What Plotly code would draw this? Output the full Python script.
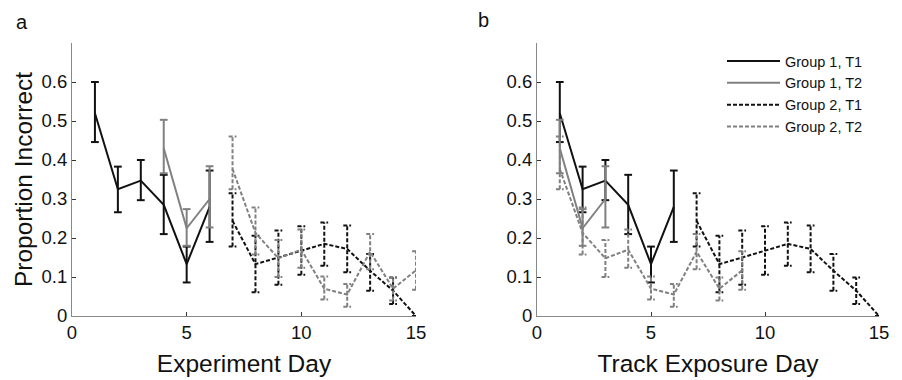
import plotly.graph_objects as go

# ---- data ----
exp_days_g1t1 = [1, 2, 3, 4, 5, 6]
exp_days_g1t2 = [4, 5, 6]
exp_days_g2t1 = [7, 8, 9, 10, 11, 12, 13, 14, 15]
exp_days_g2t2 = [7, 8, 9, 10, 11, 12, 13, 14, 15]

track_days_g1t1 = [1, 2, 3, 4, 5, 6]
track_days_g1t2 = [1, 2, 3]
track_days_g2t1 = [7, 8, 9, 10, 11, 12, 13, 14, 15]
track_days_g2t2 = [1, 2, 3, 4, 5, 6, 7, 8, 9]

g1t1_mean = [0.52, 0.325, 0.347, 0.285, 0.133, 0.28]
g1t1_hi = [0.60, 0.383, 0.40, 0.362, 0.178, 0.373]
g1t1_lo = [0.446, 0.266, 0.297, 0.21, 0.086, 0.19]

g1t2_mean = [0.43, 0.225, 0.30]
g1t2_hi = [0.503, 0.274, 0.384]
g1t2_lo = [0.366, 0.18, 0.227]

g2t1_mean = [0.244, 0.133, 0.150, 0.167, 0.185, 0.172, 0.116, 0.065, 0.0]
g2t1_hi = [0.315, 0.206, 0.219, 0.23, 0.24, 0.232, 0.159, 0.099, 0.0]
g2t1_lo = [0.178, 0.061, 0.080, 0.106, 0.129, 0.112, 0.065, 0.031, 0.0]

g2t2_mean = [0.377, 0.213, 0.148, 0.170, 0.070, 0.055, 0.165, 0.070, 0.117]
g2t2_hi = [0.460, 0.278, 0.195, 0.222, 0.101, 0.082, 0.21, 0.099, 0.166]
g2t2_lo = [0.325, 0.158, 0.10, 0.124, 0.042, 0.024, 0.12, 0.04, 0.067]

series_names = ["Group 1, T1", "Group 1, T2", "Group 2, T1", "Group 2, T2"]
x_ticks = [0, 5, 10, 15]
y_ticks = [0, 0.1, 0.2, 0.3, 0.4, 0.5, 0.6]
y_tick_labels = ["0", "0.1", "0.2", "0.3", "0.4", "0.5", "0.6"]

BLACK = "#111111"
GRAY = "#808080"
DASH = "4px,2px"
FONT = "Liberation Sans, Arial, sans-serif"


def err_segments(x, lo, hi, cap=0.17):
    xs, ys = [], []
    for xi, l, h in zip(x, lo, hi):
        xs += [xi, xi, None, xi - cap, xi + cap, None, xi - cap, xi + cap, None]
        ys += [l, h, None, h, h, None, l, l, None]
    return xs, ys


fig = go.Figure()

panels = [
    ("x", "y", [exp_days_g1t1, exp_days_g1t2, exp_days_g2t1, exp_days_g2t2], False),
    ("x2", "y2", [track_days_g1t1, track_days_g1t2, track_days_g2t1, track_days_g2t2], True),
]
means = [g1t1_mean, g1t2_mean, g2t1_mean, g2t2_mean]
his = [g1t1_hi, g1t2_hi, g2t1_hi, g2t2_hi]
los = [g1t1_lo, g1t2_lo, g2t1_lo, g2t2_lo]
colors = [BLACK, GRAY, BLACK, GRAY]
dashes = ["solid", "solid", DASH, DASH]

for xa, ya, xs_list, legend in panels:
    for i in range(4):
        ex, ey = err_segments(xs_list[i], los[i], his[i])
        fig.add_trace(go.Scatter(
            x=ex, y=ey, xaxis=xa, yaxis=ya, mode="lines",
            line=dict(color=colors[i], width=2, dash=dashes[i]),
            showlegend=False, hoverinfo="skip"))
        fig.add_trace(go.Scatter(
            x=xs_list[i], y=means[i], xaxis=xa, yaxis=ya, mode="lines",
            line=dict(color=colors[i], width=2, dash=dashes[i]),
            name=series_names[i], showlegend=legend))

axis_common = dict(
    range=[0, 15], tickvals=x_ticks, ticks="inside", ticklen=4,
    tickcolor="#333", showline=True, linecolor="#888", linewidth=1,
    showgrid=False, zeroline=False, tickfont=dict(size=18.5, color="#111"),
    automargin=False,
)
yaxis_common = dict(
    range=[0, 0.7], tickvals=y_ticks, ticktext=y_tick_labels,
    ticks="inside", ticklen=4, tickcolor="#333", showline=True, linecolor="#888",
    linewidth=1, showgrid=False, zeroline=False, tickfont=dict(size=18.5, color="#111"),
    automargin=False,
)

W, H = 902, 380
L, R, T, B = 72, 23, 43, 64
pw = W - L - R
ph = H - T - B


def px_x(px):
    return (px - L) / pw


def px_y(py):
    return (H - B - py) / ph


fig.update_layout(
    width=W, height=H,
    margin=dict(l=L, r=R, t=T, b=B),
    paper_bgcolor="white", plot_bgcolor="white",
    font=dict(family=FONT, color="#111"),
    xaxis=dict(domain=[0, 344 / pw], anchor="y",
               title=dict(text="Experiment Day", font=dict(size=24.5), standoff=12),
               **axis_common),
    yaxis=dict(domain=[0, 1], anchor="x",
               title=dict(text="Proportion Incorrect", font=dict(size=24.5), standoff=2),
               **yaxis_common),
    xaxis2=dict(domain=[465 / pw, 1], anchor="y2",
                title=dict(text="Track Exposure Day", font=dict(size=24.5), standoff=12),
                **axis_common),
    yaxis2=dict(domain=[0, 1], anchor="x2", **yaxis_common),
    showlegend=True,
    legend=dict(x=px_x(722), y=px_y(45), xanchor="left", yanchor="top",
                font=dict(size=14.5, color="#111"), bgcolor="rgba(0,0,0,0)",
                itemwidth=53, tracegroupgap=0),
    annotations=[
        dict(text="a", x=px_x(14), y=px_y(22), xref="paper", yref="paper",
             showarrow=False, font=dict(size=20), xanchor="left", yanchor="middle"),
        dict(text="b", x=px_x(476), y=px_y(20), xref="paper", yref="paper",
             showarrow=False, font=dict(size=20), xanchor="left", yanchor="middle"),
    ],
)

post = (
    "document.body.style.margin='0';document.body.style.padding='0';"
    "document.body.style.overflow='hidden';"
    "var gd=document.getElementById('{plot_id}');"
    "gd.style.width='902px';gd.style.height='380px';"
    "Plotly.relayout(gd,{width:902,height:380});"
)

fig.write_html("out.html", config={"responsive": False, "displayModeBar": False},
               post_script=post)
